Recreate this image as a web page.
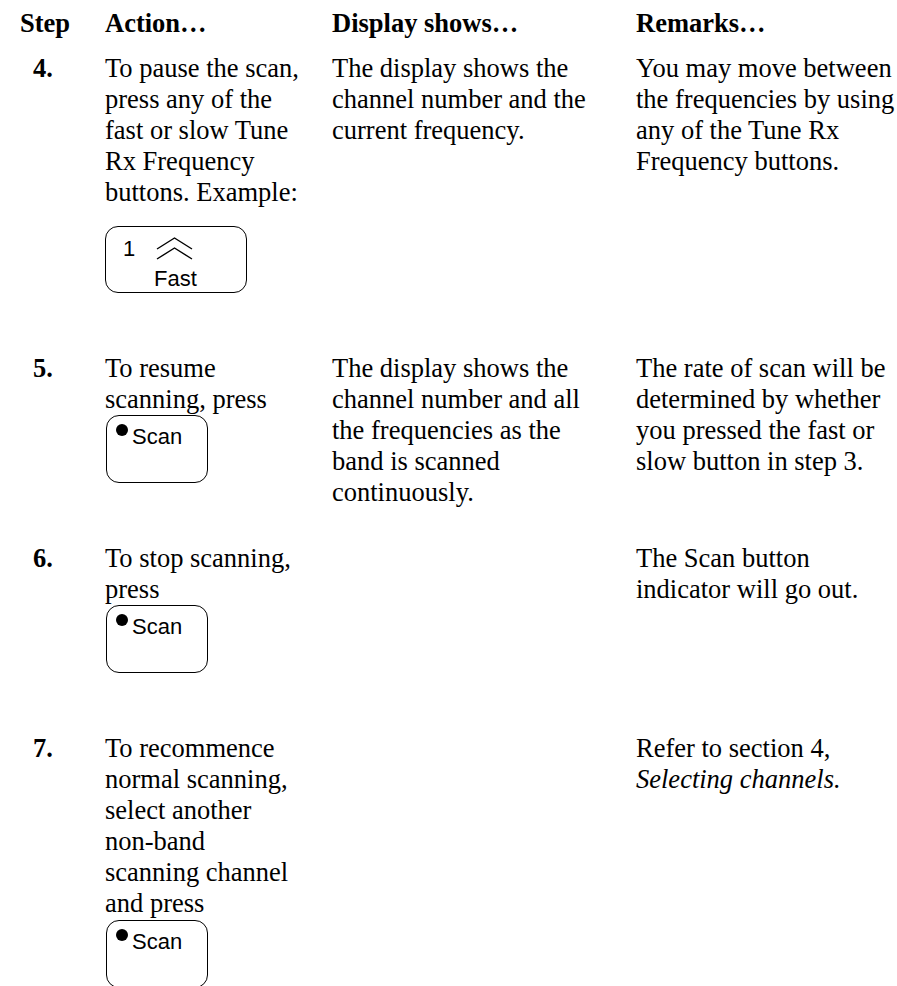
<!DOCTYPE html>
<html>
<head>
<meta charset="utf-8">
<script src="https://cdn.jsdelivr.net/npm/chart.js@4.4.1/dist/chart.umd.min.js"></script>
<style>
  html, body { margin: 0; padding: 0; background: #fff; }
  body { width: 897px; height: 986px; position: relative; overflow: hidden;
         font-family: "Liberation Serif", "Times New Roman", serif; font-size: 26.5px;
         line-height: 31px; color: #000; }
  .cell { position: absolute; white-space: nowrap; }
  .head { font-weight: bold; top: 7.5px; }
  .num { font-weight: bold; }
  .btn { position: absolute; border: 1.6px solid #000; border-radius: 13px; box-sizing: border-box;
         font-family: "Liberation Sans", Arial, sans-serif; font-size: 22px; line-height: 22px; }
  .btn span { position: absolute; }
  .dot { position: absolute; width: 12px; height: 12px; border-radius: 50%; background: #000; }
</style>
</head>
<body>
<script>
// table content
const headers = ['Step', 'Action\u2026', 'Display shows\u2026', 'Remarks\u2026'];
const stepNumbers = ['4.', '5.', '6.', '7.'];
const actionLines = [
  ['To pause the scan,', 'press any of the', 'fast or slow Tune', 'Rx Frequency', 'buttons. Example:'],
  ['To resume', 'scanning, press'],
  ['To stop scanning,', 'press'],
  ['To recommence', 'normal scanning,', 'select another', 'non-band', 'scanning channel', 'and press']
];
const displayLines = [
  ['The display shows the', 'channel number and the', 'current frequency.'],
  ['The display shows the', 'channel number and all', 'the frequencies as the', 'band is scanned', 'continuously.'],
  [],
  []
];
const remarkLines = [
  ['You may move between', 'the frequencies by using', 'any of the Tune Rx', 'Frequency buttons.'],
  ['The rate of scan will be', 'determined by whether', 'you pressed the fast or', 'slow button in step 3.'],
  ['The Scan button', 'indicator will go out.'],
  ['Refer to section 4,', '<i>Selecting channels.</i>']
];
const buttons = ['fast', 'scan', 'scan', 'scan'];

// layout
const colX = [20, 105, 332, 636];
const rowTop = [52.5, 352.5, 542.5, 732.5];
const btnGap = [18, 0.5, 0.5, 1.5];

function cell(x, y, html, cls) {
  const d = document.createElement('div');
  d.className = 'cell ' + (cls || '');
  d.style.left = x + 'px';
  d.style.top = y + 'px';
  d.innerHTML = html;
  document.body.appendChild(d);
  return d;
}

headers.forEach((h, i) => cell(colX[i], 7.5, h, 'head'));

stepNumbers.forEach((n, r) => {
  cell(33, rowTop[r], n, 'num');
  cell(colX[1], rowTop[r], actionLines[r].join('<br>'));
  if (displayLines[r].length) cell(colX[2], rowTop[r], displayLines[r].join('<br>'));
  cell(colX[3], rowTop[r], remarkLines[r].join('<br>'));

  const top = rowTop[r] + actionLines[r].length * 31 + btnGap[r];
  const b = document.createElement('div');
  b.className = 'btn';
  b.style.top = top + 'px';
  if (buttons[r] === 'fast') {
    b.style.left = '105px'; b.style.width = '142px'; b.style.height = '67px';
    b.innerHTML = '<span style="left:17px;top:11px">1</span>' +
      '<svg style="position:absolute;left:50px;top:10px" width="40" height="26">' +
      '<polyline points="1,12 18.5,1 36,12" fill="none" stroke="#000" stroke-width="1.4"/>' +
      '<polyline points="1,22 18.5,11 36,22" fill="none" stroke="#000" stroke-width="1.4"/></svg>' +
      '<span style="left:48px;top:41px">Fast</span>';
  } else {
    b.style.left = '106px'; b.style.width = '102px'; b.style.height = '68px';
    b.innerHTML = '<div class="dot" style="left:9px;top:8px"></div>' +
      '<span style="left:25px;top:10px">Scan</span>';
  }
  document.body.appendChild(b);
});
</script>
</body>
</html>
